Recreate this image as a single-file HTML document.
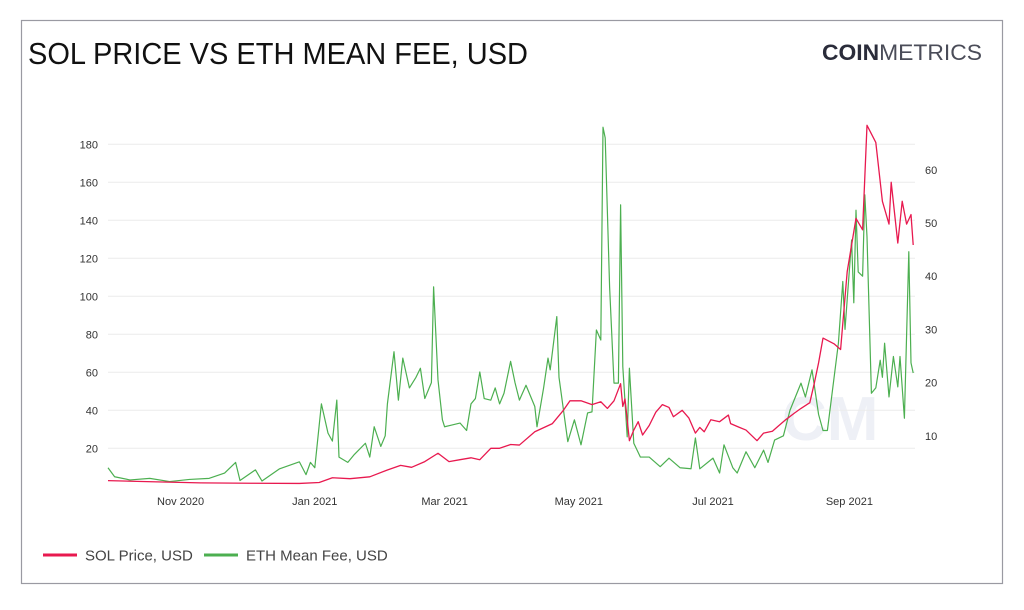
<!DOCTYPE html>
<html><head><meta charset="utf-8"><style>
body{margin:0;background:#fff;width:1024px;height:605px;overflow:hidden;font-family:"Liberation Sans",sans-serif}
</style></head><body>
<svg id="chart" width="1024" height="605" xmlns="http://www.w3.org/2000/svg">
<rect x="21.5" y="20.5" width="981" height="563" fill="#fff" stroke="#9a9aa2" stroke-width="1.2"/>
<text x="28" y="64" font-size="31" fill="#111" textLength="500" lengthAdjust="spacingAndGlyphs">SOL PRICE VS ETH MEAN FEE, USD</text>
<text x="822" y="60" font-size="22" fill="#2a2c3a" textLength="160" lengthAdjust="spacingAndGlyphs"><tspan font-weight="bold">COIN</tspan><tspan fill="#4a4c58">METRICS</tspan></text>
<text x="782" y="440" font-size="62" fill="#eef0f6" font-weight="bold">CM</text>
<g id="grid"></g><g id="xaxis"></g><g id="yleft"></g><g id="yright"></g>
<g id="series"></g>
<g>
<line x1="43" y1="555" x2="77" y2="555" stroke="#e8194f" stroke-width="3"/>
<text x="85" y="560.5" font-size="15" fill="#444">SOL Price, USD</text>
<line x1="204" y1="555" x2="238" y2="555" stroke="#4caf50" stroke-width="3"/>
<text x="246" y="560.5" font-size="15" fill="#444">ETH Mean Fee, USD</text>
</g>
</svg>
<script>
const xTickDays=[33,94,153,214,275,337];
const xTickLabels=["Nov 2020","Jan 2021","Mar 2021","May 2021","Jul 2021","Sep 2021"];
const leftTicks=[20,40,60,80,100,120,140,160,180];
const rightTicks=[10,20,30,40,50,60];
const solDays=[0,20,42,65,87,96,102,110,119,127,133,138,144,150,155,160,165,169,174,178,183,187,194,202,207,210,215,220,224,227,230,233,234,235,237,239,241,243,246,249,252,255,257,261,264,267,269,271,274,278,282,283,287,290,295,298,302,304,308,312,315,319,321,323,325,330,333,336,340,343,345,349,352,355,356,359,361,363,365,366];
const solPrice=[3,2.4,1.8,1.6,1.5,2,4.5,4,5,8.6,11,10,13,17.4,13,14,15,14,20,20,22,21.7,28.7,33,40,45,45,43,44.5,41,45,54,42,46,24,29.6,34,27,32,39,43,41.5,36.6,40,36,28,31,28.7,35,34,37.5,33,31,29.6,24,28,29,31,35,38.5,41,44,54,65,78,75,72,113,141,135,190,181,150,138,160,128,150,138,143,127];
const ethDays=[0,3,10,19,28,37,46,53,58,60,67,70,78,87,90,92,94,97,100,102,104,105,109,112,117,119,121,124,126,127,130,132,134,137,140,142,144,145,147,148,150,152,153,156,160,163,165,167,169,171,174,176,178,180,183,185,187,190,194,195,198,200,201,204,205,209,212,215,218,220,222,224,225,226,228,230,232,233,234,236,237,239,242,246,251,255,260,265,267,269,275,278,280,284,286,290,294,298,300,303,307,310,315,317,320,323,325,327,332,334,335,338,339,340,341,343,344,345,347,349,351,352,353,355,357,359,360,362,364,365,366];
const ethFee=[4,2.3,1.7,2,1.4,1.8,2,3,5,1.6,3.6,1.5,3.8,5.1,2.7,5,4,16,10.5,9,16.7,6,5,6.5,8.6,6,11.7,8,10,16,25.8,16.7,24.6,19,21,22.7,17,18,20,38,20.5,13,11.7,12,12.4,11,16,17,22,17,16.7,19,16,18,24,20,16.7,19.5,15.5,11.7,19,24.6,22.4,32.4,21,8.9,13,8.3,14.3,14.5,29.9,28,68,66,38,19.9,19.9,53.4,23,9.8,22.7,8.6,6,6,4.2,5.8,4,3.8,9.6,3.8,5.8,3,8.3,4,3,7,4,7.3,5,9.2,10,14.8,19.9,17.3,22.4,14,11,11,27.4,39,30,46.8,35,52.4,40.8,40,55.3,47.4,18,19,24.2,21,27.4,17.3,24.9,19.2,24.9,13.3,44.6,23.7,21.8];
const NS="http://www.w3.org/2000/svg";
const X0=108,PX_PER_DAY=2.2;
function xScale(d){return X0+d*PX_PER_DAY;}
function yLeft(v){return 486.3-v*1.9;}
function yRight(v){return 489-v*5.32;}
function mk(tag,attrs,parent){const e=document.createElementNS(NS,tag);for(const k in attrs)e.setAttribute(k,attrs[k]);document.getElementById(parent).appendChild(e);return e;}
leftTicks.forEach(v=>{
  const g=mk('line',{x1:108,x2:915,y1:yLeft(v),y2:yLeft(v),stroke:'#ececec','stroke-width':1},'grid');
  
  
  const t=mk('text',{x:98,y:yLeft(v)+4,'font-size':11,fill:'#333','text-anchor':'end'},'yleft');
  t.textContent=v;
  
  
});
rightTicks.forEach(v=>{
  const t=mk('text',{x:925,y:yRight(v)+4,'font-size':11,fill:'#333'},'yright');
  t.textContent=v;
  
  
});
xTickDays.forEach((d,i)=>{
  const t=mk('text',{x:xScale(d),y:505,'font-size':11,fill:'#333','text-anchor':'middle'},'xaxis');
  t.textContent=xTickLabels[i];
  
  
});
const eth=mk('polyline',{points:ethDays.map((d,i)=>xScale(d)+','+yRight(ethFee[i])).join(' '),fill:'none',stroke:'#4caf50','stroke-width':1.2,'stroke-linejoin':'round'},'series');


const sol=mk('polyline',{points:solDays.map((d,i)=>xScale(d)+','+yLeft(solPrice[i])).join(' '),fill:'none',stroke:'#e8194f','stroke-width':1.3,'stroke-linejoin':'round'},'series');


</script>
</body></html>
